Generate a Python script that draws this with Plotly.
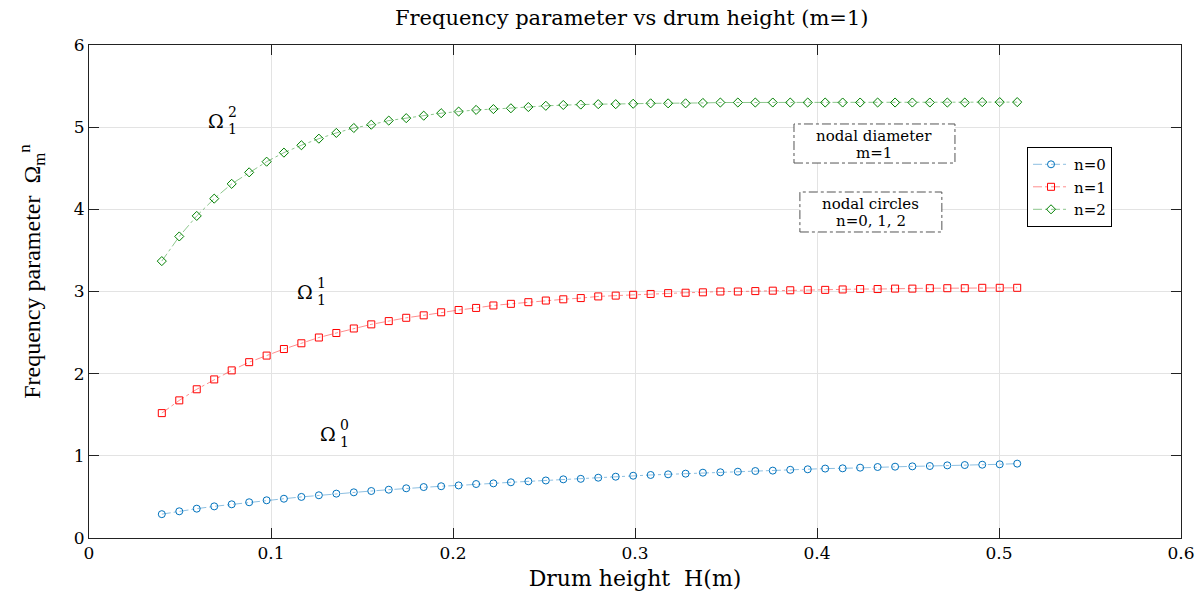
import plotly.graph_objects as go

drum_height = [0.0400, 0.0496, 0.0592, 0.0688, 0.0784, 0.0880, 0.0976, 0.1071, 0.1167, 0.1263,
               0.1359, 0.1455, 0.1551, 0.1647, 0.1743, 0.1839, 0.1935, 0.2031, 0.2127, 0.2222,
               0.2318, 0.2414, 0.2510, 0.2606, 0.2702, 0.2798, 0.2894, 0.2990, 0.3086, 0.3182,
               0.3278, 0.3373, 0.3469, 0.3565, 0.3661, 0.3757, 0.3853, 0.3949, 0.4045, 0.4141,
               0.4237, 0.4333, 0.4429, 0.4524, 0.4620, 0.4716, 0.4812, 0.4908, 0.5004, 0.5100]

omega_n0 = [0.29, 0.325, 0.357, 0.385, 0.41, 0.435, 0.459, 0.478, 0.50, 0.52,
            0.54, 0.556, 0.572, 0.588, 0.605, 0.62, 0.63, 0.64, 0.657, 0.665,
            0.678, 0.69, 0.70, 0.714, 0.72, 0.734, 0.746, 0.758, 0.767, 0.775,
            0.783, 0.795, 0.80, 0.807, 0.815, 0.82, 0.83, 0.836, 0.845, 0.848,
            0.856, 0.864, 0.868, 0.872, 0.876, 0.884, 0.888, 0.892, 0.897, 0.905]

omega_n1 = [1.52, 1.675, 1.81, 1.93, 2.04, 2.14, 2.22, 2.30, 2.37, 2.44,
            2.495, 2.55, 2.60, 2.64, 2.68, 2.71, 2.747, 2.775, 2.80, 2.83,
            2.85, 2.87, 2.89, 2.905, 2.92, 2.94, 2.95, 2.96, 2.97, 2.98,
            2.985, 2.99, 3.00, 3.00, 3.005, 3.01, 3.015, 3.02, 3.02, 3.025,
            3.03, 3.03, 3.035, 3.035, 3.04, 3.04, 3.04, 3.045, 3.045, 3.045]

omega_n2 = [3.37, 3.67, 3.92, 4.13, 4.31, 4.45, 4.58, 4.69, 4.78, 4.86,
            4.93, 4.99, 5.03, 5.08, 5.11, 5.14, 5.17, 5.19, 5.21, 5.22,
            5.23, 5.245, 5.26, 5.27, 5.275, 5.28, 5.28, 5.285, 5.29, 5.29,
            5.29, 5.295, 5.30, 5.30, 5.30, 5.30, 5.30, 5.30, 5.30, 5.30,
            5.30, 5.30, 5.30, 5.30, 5.30, 5.30, 5.30, 5.305, 5.305, 5.305]

series_names = ["n=0", "n=1", "n=2"]
x_ticks = [0, 0.1, 0.2, 0.3, 0.4, 0.5, 0.6]
x_tick_labels = ["0", "0.1", "0.2", "0.3", "0.4", "0.5", "0.6"]
y_ticks = [0, 1, 2, 3, 4, 5, 6]

WIDE = "DejaVu Serif, Liberation Serif, serif"
SERIF = "Liberation Serif, Times New Roman, serif"

styles = [
    dict(symbol="circle-open", mcolor="#0072BD", lcolor="rgba(0,114,189,0.45)"),
    dict(symbol="square-open", mcolor="#FF0000", lcolor="rgba(255,0,0,0.45)"),
    dict(symbol="diamond-open", mcolor="#008000", lcolor="rgba(0,128,0,0.45)"),
]

fig = go.Figure()
for name, ys, st in zip(series_names, [omega_n0, omega_n1, omega_n2], styles):
    fig.add_trace(go.Scatter(
        x=drum_height, y=ys, name=name, mode="lines+markers",
        line=dict(color=st["lcolor"], width=1, dash="dashdot"),
        marker=dict(symbol=st["symbol"], size=7, color=st["mcolor"],
                    line=dict(color=st["mcolor"], width=1)),
    ))

# Omega labels (Omega with stacked sup/sub)
omega_labels = [(0.075, 5.07, "2"), (0.124, 3.0, "1"), (0.137, 1.26, "0")]
for xo, yo, sup in omega_labels:
    fig.add_annotation(x=xo, y=yo, text="Ω", showarrow=False, xanchor="right",
                       font=dict(family=WIDE, size=19, color="black"))
    fig.add_annotation(x=xo, y=yo, text=sup, showarrow=False, xanchor="left",
                       yshift=9, xshift=0, font=dict(family=WIDE, size=14, color="black"))
    fig.add_annotation(x=xo, y=yo, text="1", showarrow=False, xanchor="left",
                       yshift=-8, xshift=0, font=dict(family=WIDE, size=14, color="black"))

# Text boxes with dash-dot borders
boxes = [
    (0.6456, 0.7606, 0.793, 0.8398, ["nodal diameter", "m=1"]),
    (0.651, 0.6207, 0.781, 0.7018, ["nodal circles", "n=0, 1, 2"]),
]
for x0, y0, x1, y1, lines in boxes:
    fig.add_shape(type="rect", xref="paper", yref="paper", x0=x0, y0=y0, x1=x1, y1=y1,
                  line=dict(color="#555555", width=1, dash="dashdot"), fillcolor="white",
                  layer="above")
    yc = (y0 + y1) / 2
    for k, txt in enumerate(lines):
        fig.add_annotation(xref="paper", yref="paper", x=(x0 + x1) / 2, y=yc,
                           yshift=8 if k == 0 else -9,
                           text=txt, showarrow=False, xanchor="center", yanchor="middle",
                           font=dict(family=WIDE, size=15, color="black"))

# Y-axis title as a rotated annotation for precise placement
fig.add_annotation(xref="paper", yref="paper", x=0, y=0.54, xshift=-57,
                   text="Frequency parameter  Ω<sub>m</sub><sup>n</sup>", textangle=-90,
                   showarrow=False, xanchor="center", yanchor="middle",
                   font=dict(family=SERIF, size=24, color="black"))

fig.update_layout(
    width=1201, height=598,
    margin=dict(l=89, r=20, t=45, b=60, autoexpand=False),
    paper_bgcolor="white", plot_bgcolor="white",
    title=dict(text="Frequency parameter vs drum height (m=1)", x=0.497, xanchor="center",
               y=0.97, yanchor="middle", xref="paper",
               font=dict(family=WIDE, size=21, color="black")),
    legend=dict(x=0.859, y=0.793, xanchor="left", yanchor="top",
                bgcolor="white", bordercolor="black", borderwidth=1,
                font=dict(family=WIDE, size=15, color="black"),
                tracegroupgap=0, itemwidth=36),
    showlegend=True,
)
fig.update_xaxes(
    range=[0, 0.6], tickvals=x_ticks, ticktext=x_tick_labels, automargin=False,
    showgrid=True, gridcolor="#e3e3e3", gridwidth=1,
    showline=True, linecolor="#222222", linewidth=1, mirror="ticks",
    ticks="inside", ticklen=10, tickcolor="#222222",
    zeroline=False,
    tickfont=dict(family=WIDE, size=17, color="black"),
    title=dict(text="Drum height  H(m)", font=dict(family=WIDE, size=22, color="black"),
               standoff=8),
)
fig.update_yaxes(
    range=[0, 6], tickvals=y_ticks, automargin=False,
    showgrid=True, gridcolor="#e3e3e3", gridwidth=1,
    showline=True, linecolor="#222222", linewidth=1, mirror="ticks",
    ticks="inside", ticklen=10, tickcolor="#222222",
    zeroline=False,
    tickfont=dict(family=WIDE, size=17, color="black"),
)

fig.write_html("out.html", config={"displayModeBar": False},
               post_script="document.body.style.margin='0';")
